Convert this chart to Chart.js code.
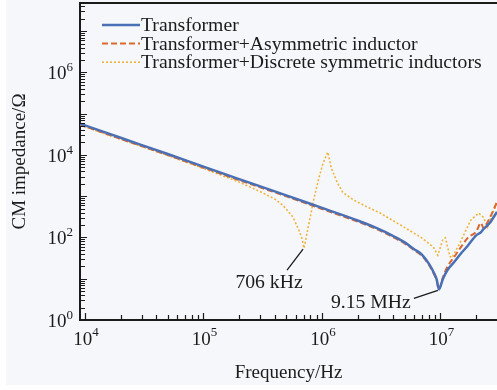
<!DOCTYPE html>
<html>
<head>
<meta charset="utf-8">
<script src="https://cdn.jsdelivr.net/npm/chart.js@4.4.1/dist/chart.umd.min.js"></script>
<style>
  html, body { margin: 0; padding: 0; background: #fff; }
  canvas { display: block; }
</style>
</head>
<body>
<canvas id="myChart" width="497" height="390"></canvas>
<script>
const seriesNames = ['Transformer', 'Transformer+Asymmetric inductor', 'Transformer+Discrete symmetric inductors'];

// frequency in Hz, impedance in ohm
const freqMain = [9.08e3, 1e4, 2e4, 5e4, 1e5, 2e5, 5e5, 1e6, 2e6, 3e6, 4e6, 5e6, 6e6, 7e6, 8e6, 8.8e6, 9.3e6, 9.7e6,
  1.05e7, 1.15e7, 1.3e7, 1.5e7, 1.7e7, 2e7, 2.2e7, 2.3e7, 2.6e7, 3e7];
const zTransformer = [5.7e4, 5.2e4, 2.6e4, 1.05e4, 5.2e3, 2.6e3, 1.05e3, 520, 258, 162, 108, 76, 52, 38, 23, 14, 9.5, 5.5,
  10, 16.5, 25, 42, 63, 112, 135, 158, 224, 417];
const zAsymmetric = [5.35e4, 4.9e4, 2.45e4, 9.9e3, 4.9e3, 2.45e3, 990, 490, 243, 152, 101, 71, 49, 35.5, 21.5, 13, 9, 5.6,
  11, 20, 33, 60, 98, 138, 224, 170, 295, 724];

const freqDiscrete = [9.08e3, 1e4, 2e4, 5e4, 1e5, 2e5, 3e5, 4e5, 4.7e5, 5.7e5, 6.3e5, 6.8e5, 7.06e5, 7.6e5, 8.5e5, 9.3e5,
  1.02e6, 1.12e6, 1.2e6, 1.35e6, 1.5e6, 1.85e6, 2.4e6, 3.1e6, 4.6e6, 6.8e6, 8.7e6, 9.5e6, 1.05e7, 1.1e7, 1.2e7, 1.25e7,
  1.45e7, 1.8e7, 2.1e7, 2.3e7, 2.5e7, 2.75e7, 3e7];
const zDiscrete = [5.3e4, 4.8e4, 2.4e4, 9.7e3, 4.7e3, 2.2e3, 1.3e3, 850, 600, 310, 165, 93, 55, 160, 800, 2400,
  6300, 1.17e4, 4800, 2100, 1230, 810, 550, 390, 200, 102, 59, 37, 91, 98, 35, 32,
  71, 263, 390, 310, 178, 390, 676];

const xTickExponents = [4, 5, 6, 7];
const yTickExponents = [0, 2, 4, 6];

const markerLabels = ['706 kHz', '9.15 MHz'];
const markerFreq = [7.06e5, 9.7e6];
const markerZ = [55, 5.5];

const FONT = '"Liberation Serif", "Times New Roman", serif';
const INK = '#1b1b1b';

function toPoints(xs, ys) {
  return xs.map((x, i) => ({ x: x, y: ys[i] }));
}

function isWhole(v) {
  const m = v / Math.pow(10, Math.floor(Math.log10(v) + 1e-9));
  return Math.abs(m - Math.round(m)) < 1e-6;
}

function isPow10(v) {
  const l = Math.log10(v);
  return Math.abs(l - Math.round(l)) < 1e-6;
}

function powWidths(c, exp) {
  c.font = '19px ' + FONT;
  const wb = c.measureText('10').width;
  c.font = '13px ' + FONT;
  const we = c.measureText(String(exp)).width;
  return [wb, we];
}

const decor = {
  id: 'decor',
  beforeDraw(chart) {
    const c = chart.ctx;
    c.save();
    c.fillStyle = '#ffffff';
    c.fillRect(0, 0, chart.width, chart.height);
    c.fillStyle = '#f5f7fb';
    c.fillRect(6, 0, chart.width - 6, 385);
    c.restore();
  },
  afterDraw(chart) {
    const c = chart.ctx;
    const a = chart.chartArea;
    const xs = chart.scales.x, ys = chart.scales.y;
    c.save();

    // top frame
    c.strokeStyle = INK;
    c.lineWidth = 2;
    c.beginPath();
    c.moveTo(a.left, a.top);
    c.lineTo(a.right, a.top);
    c.stroke();

    // inward ticks
    c.lineWidth = 1.2;
    c.beginPath();
    xs.ticks.forEach(t => {
      if (!isWhole(t.value)) return;
      const px = Math.round(xs.getPixelForValue(t.value)) + 0.5;
      if (px < a.left + 1 || px > a.right - 1) return;
      const len = isPow10(t.value) ? 7 : 5;
      c.moveTo(px, a.bottom);
      c.lineTo(px, a.bottom - len);
    });
    ys.ticks.forEach(t => {
      if (!isWhole(t.value)) return;
      const py = Math.round(ys.getPixelForValue(t.value)) + 0.5;
      if (py < a.top + 1 || py > a.bottom - 1) return;
      const len = isPow10(t.value) ? 7 : 5;
      c.moveTo(a.left, py);
      c.lineTo(a.left + len, py);
    });
    c.stroke();

    // tick labels 10^n
    c.fillStyle = INK;
    c.textBaseline = 'alphabetic';
    c.textAlign = 'left';
    xTickExponents.forEach(e => {
      const px = xs.getPixelForValue(Math.pow(10, e));
      const [wb, we] = powWidths(c, e);
      const left = px - (wb + we) / 2 + 1;
      c.font = '19px ' + FONT;
      c.fillText('10', left, a.bottom + 25);
      c.font = '13px ' + FONT;
      c.fillText(String(e), left + wb, a.bottom + 16);
    });
    yTickExponents.forEach(e => {
      const py = ys.getPixelForValue(Math.pow(10, e));
      const [wb, we] = powWidths(c, e);
      const right = a.left - 7;
      c.font = '19px ' + FONT;
      c.fillText('10', right - we - wb, py + 7);
      c.font = '13px ' + FONT;
      c.fillText(String(e), right - we, py - 1);
    });

    // legend
    chart.data.datasets.forEach((ds, i) => {
      const y = 25 + i * 18.6;
      c.strokeStyle = ds.borderColor;
      c.lineWidth = ds.borderWidth;
      c.setLineDash(ds.borderDash || []);
      c.beginPath();
      c.moveTo(102, y);
      c.lineTo(140, y);
      c.stroke();
      c.setLineDash([]);
      c.fillStyle = INK;
      c.font = '19.7px ' + FONT;
      c.textBaseline = 'middle';
      c.fillText(ds.label, 141, y + 1);
    });

    // markers
    const offs = [[-35, 35, -17, 22], [-68, 13, -25, 9]];
    c.strokeStyle = INK;
    c.lineWidth = 1.3;
    c.font = '19.7px ' + FONT;
    c.textAlign = 'center';
    c.textBaseline = 'middle';
    markerLabels.forEach((txt, i) => {
      const px = xs.getPixelForValue(markerFreq[i]);
      const py = ys.getPixelForValue(markerZ[i]);
      const o = offs[i];
      c.beginPath();
      c.moveTo(px - 1, py + 1);
      c.lineTo(px + o[2], py + o[3]);
      c.stroke();
      c.fillText(txt, px + o[0], py + o[1]);
    });

    c.restore();
  }
};

const ctx = document.getElementById('myChart');
new Chart(ctx, {
  type: 'line',
  data: {
    datasets: [
      {
        label: seriesNames[0],
        data: toPoints(freqMain, zTransformer),
        borderColor: '#4a6fb5',
        borderWidth: 2.5,
        pointRadius: 0,
        cubicInterpolationMode: 'monotone'
      },
      {
        label: seriesNames[1],
        data: toPoints(freqMain, zAsymmetric),
        borderColor: '#d9692e',
        borderWidth: 2,
        borderDash: [6, 3],
        pointRadius: 0,
        cubicInterpolationMode: 'monotone'
      },
      {
        label: seriesNames[2],
        data: toPoints(freqDiscrete, zDiscrete),
        borderColor: '#f0b43c',
        borderWidth: 1.6,
        borderDash: [2, 2],
        pointRadius: 0,
        tension: 0
      }
    ]
  },
  options: {
    responsive: false,
    animation: false,
    layout: { padding: { top: 3, right: 0, bottom: 0, left: 0 } },
    plugins: { legend: { display: false }, tooltip: { enabled: false } },
    scales: {
      x: {
        type: 'logarithmic',
        min: 9.08e3,
        max: 3e7,
        grid: { display: false, drawTicks: false },
        border: { display: true, color: INK, width: 2 },
        ticks: { display: false },
        title: { display: true, text: 'Frequency/Hz', color: INK, font: { family: FONT, size: 19 }, padding: { top: 0, bottom: 6 } },
        afterFit(s) { s.height = 70; }
      },
      y: {
        type: 'logarithmic',
        min: 1,
        max: 4.8e7,
        grid: { display: false, drawTicks: false },
        border: { display: true, color: INK, width: 2 },
        ticks: { display: false },
        title: { display: true, text: 'CM impedance/Ω', color: INK, font: { family: FONT, size: 19 }, padding: { top: 9, bottom: 0 } },
        afterFit(s) { s.width = 80; }
      }
    }
  },
  plugins: [decor]
});
</script>
</body>
</html>
